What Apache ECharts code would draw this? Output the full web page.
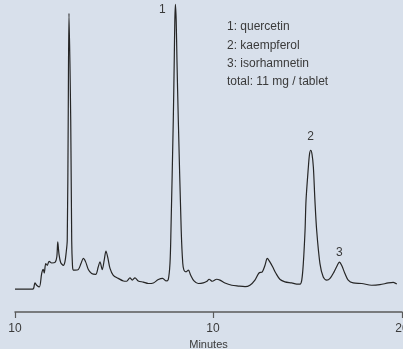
<!DOCTYPE html>
<html>
<head>
<meta charset="utf-8">
<script src="https://cdn.jsdelivr.net/npm/echarts@6/dist/echarts.min.js"></script>
<style>
  html, body { margin: 0; padding: 0; background: #d8e0eb; }
  #chart { width: 403px; height: 349px; }
</style>
</head>
<body>
<div id="chart"></div>
<script>
// retention time (min) and detector signal
const times = [
  0.00, 0.86, 0.96, 1.03, 1.12, 1.26, 1.38, 1.46, 1.51, 1.59,
  1.67, 1.76, 1.90, 2.07, 2.16, 2.21, 2.27, 2.36, 2.50, 2.58,
  2.64, 2.70, 2.75, 2.79, 2.88, 2.93, 2.97, 3.01, 3.10, 3.27,
  3.41, 3.53, 3.65, 3.79, 3.96, 4.17, 4.30, 4.39, 4.51, 4.61,
  4.70, 4.79, 4.91, 5.08, 5.34, 5.60, 5.77, 5.94, 6.06, 6.20,
  6.37, 6.63, 6.89, 7.15, 7.41, 7.63, 7.80, 7.92, 8.01, 8.06,
  8.18, 8.23, 8.26, 8.29, 8.33, 8.37, 8.44, 8.59, 8.67, 8.73,
  8.84, 8.96, 9.08, 9.25, 9.47, 9.73, 9.92, 10.03, 10.20, 10.42,
  10.59, 10.85, 11.20, 11.54, 11.89, 12.14, 12.40, 12.61, 12.78, 12.92,
  13.04, 13.18, 13.32, 13.49, 13.70, 13.95, 14.30, 14.56, 14.73, 14.82,
  14.90, 14.99, 15.04, 15.16, 15.22, 15.28, 15.35, 15.42, 15.50, 15.59,
  15.76, 15.93, 16.11, 16.28, 16.49, 16.66, 16.76, 16.88, 17.05, 17.22,
  17.48, 17.92, 18.43, 18.86, 19.29, 19.55, 19.73
]
const signal = [
  0.0, 0.0, 0.3, 2.2, 1.4, 0.8, 5.6, 7.0, 5.7, 9.0,
  8.4, 9.8, 9.2, 9.4, 11.3, 16.6, 12.5, 9.4, 8.4, 9.6,
  12.6, 17.2, 59.3, 96.9, 59.3, 17.2, 8.4, 6.7, 6.7, 6.9,
  9.0, 10.8, 9.6, 6.9, 5.5, 5.2, 7.8, 9.6, 6.9, 10.2,
  13.4, 11.3, 7.3, 4.9, 3.8, 2.9, 2.8, 4.0, 3.2, 4.0,
  2.9, 2.5, 2.0, 2.2, 3.4, 3.8, 2.9, 3.4, 9.1, 20.7,
  59.3, 80.4, 94.4, 100.0, 94.4, 80.4, 59.3, 20.7, 9.1, 6.7,
  6.1, 6.7, 4.9, 2.9, 2.0, 2.2, 2.8, 3.5, 2.8, 3.5,
  3.2, 2.2, 1.4, 1.1, 0.9, 1.4, 3.2, 5.7, 6.1, 8.4,
  10.8, 9.5, 7.8, 5.5, 3.4, 2.6, 2.2, 1.8, 1.8, 3.2,
  9.0, 20.7, 31.2, 42.8, 47.4, 48.8, 47.4, 42.8, 31.2, 20.7,
  9.0, 4.3, 3.2, 3.8, 6.1, 8.4, 9.5, 8.4, 5.5, 3.2,
  2.2, 2.0, 1.4, 1.6, 2.2, 2.4, 1.8
]

const peakNames = ['1', '2', '3']
const peakTimes = [8.29, 15.28, 16.76]
const peakHeights = [100.0, 48.8, 9.5]

// tick positions and their printed labels, as on the original
const xTickValues = [0, 10.23, 20]
const xTickLabels = ['10', '10', '20']
const legendLines = ['1: quercetin', '2: kaempferol', '3: isorhamnetin', 'total: 11 mg / tablet']

const textColor = '#3a3a3a'
const axisColor = '#5a5a5a'
const labelOffsets = [[-13, 5], [0, -14], [0, -9]]

const chart = echarts.init(document.getElementById('chart'))

chart.setOption({
  backgroundColor: '#d8e0eb',
  animation: false,
  title: {
    text: legendLines.join('\n'),
    left: 227,
    top: 18,
    padding: 0,
    textStyle: {
      fontFamily: 'Liberation Sans',
      fontSize: 12,
      fontWeight: 'normal',
      color: textColor,
      lineHeight: 18.3
    }
  },
  grid: {
    left: 15,
    right: 1,
    top: 3,
    bottom: 37,
    containLabel: false,
    outerBoundsMode: 'none'
  },
  xAxis: {
    type: 'value',
    min: 0,
    max: 20,
    name: 'Minutes',
    nameLocation: 'middle',
    nameGap: 22,
    nameTextStyle: {
      fontFamily: 'Liberation Sans',
      fontSize: 11,
      color: textColor
    },
    axisLine: { show: true, onZero: false, lineStyle: { color: axisColor, width: 1.5 } },
    axisTick: { show: true, length: 6, customValues: xTickValues, lineStyle: { color: axisColor, width: 1.2 } },
    splitLine: { show: false },
    axisLabel: {
      margin: 11,
      customValues: xTickValues,
      fontFamily: 'Liberation Sans',
      fontSize: 12,
      color: textColor,
      formatter: v => xTickLabels[xTickValues.indexOf(v)]
    }
  },
  yAxis: {
    type: 'value',
    show: false,
    min: -8,
    max: 100.5,
    splitLine: { show: false }
  },
  series: [{
    type: 'line',
    data: times.map((t, i) => [t, signal[i]]),
    showSymbol: false,
    smooth: 0.3,
    lineStyle: { color: '#262626', width: 1.2 },
    markPoint: {
      symbol: 'circle',
      symbolSize: 0,
      label: {
        show: true,
        fontFamily: 'Liberation Sans',
        fontSize: 12,
        color: textColor
      },
      data: peakNames.map((n, i) => ({
        coord: [peakTimes[i], peakHeights[i]],
        value: n,
        label: { formatter: n, offset: labelOffsets[i] }
      }))
    }
  }]
})
</script>
</body>
</html>
